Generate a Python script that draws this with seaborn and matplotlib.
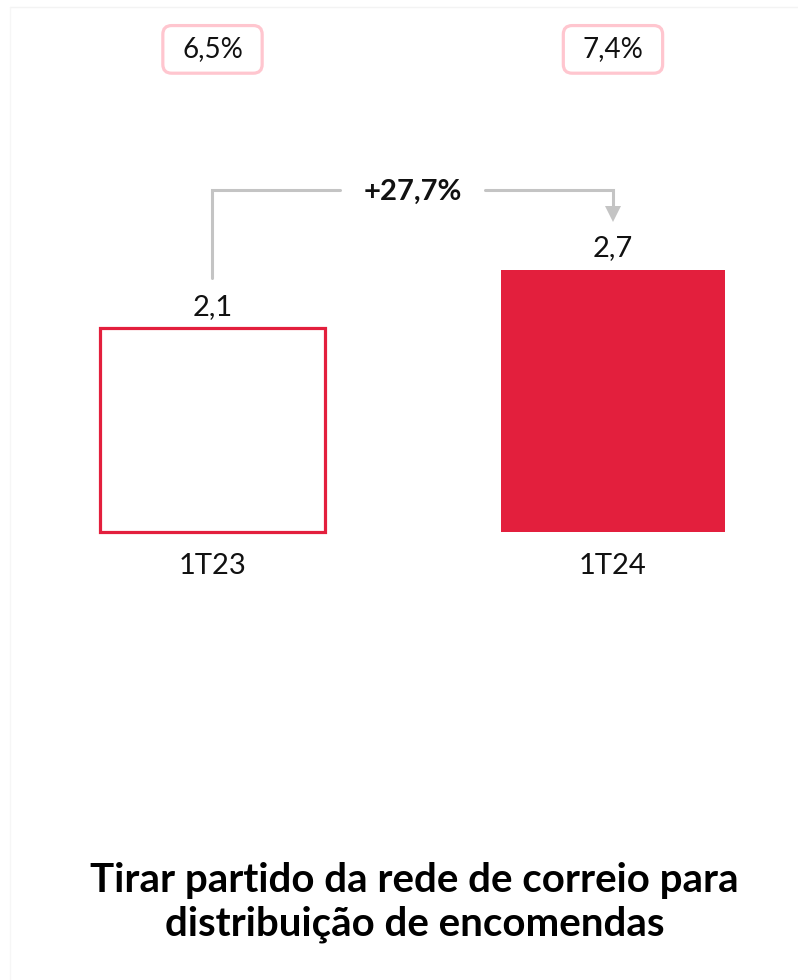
import matplotlib
matplotlib.use("Agg")
import matplotlib.pyplot as plt
from matplotlib.patches import FancyBboxPatch
from matplotlib.lines import Line2D
import seaborn as sns
import pandas as pd

# data
periodos = ["1T23", "1T24"]
valores = [2.1, 2.7]
valores_txt = ["2,1", "2,7"]
quotas_txt = ["6,5%", "7,4%"]
variacao_txt = "+27,7%"
titulo = "Tirar partido da rede de correio para\ndistribuição de encomendas"

vermelho = "#E31F3D"
rosa = "#FFC6CF"
cinza = "#C4C4C4"

sns.set_theme(style="white")
plt.rcParams["font.family"] = ["Lato", "DejaVu Sans"]

df = pd.DataFrame({"periodo": periodos, "valor": valores})

fig = plt.figure(figsize=(7.98, 9.8), dpi=100)
ax = fig.add_axes([0, 0, 1, 1])

sns.barplot(data=df, x="periodo", y="valor", hue="periodo",
            palette=["white", vermelho], width=0.56, saturation=1,
            legend=False, ax=ax)
ax.patches[0].set_edgecolor(vermelho)
ax.patches[0].set_linewidth(2.3)
ax.patches[1].set_edgecolor(vermelho)
ax.patches[1].set_linewidth(0)

# pixel-ish scale: bars centred at 212 / 613 px, baseline at 532 px
ax.set_xlim(-0.5306, 1.462)
ax.set_ylim(-4.609, 5.473)
ax.axis("off")

for i, (v, t) in enumerate(zip(valores, valores_txt)):
    ax.annotate(t, xy=(i, v), xytext=(0, 9.5), textcoords="offset points",
                ha="center", va="baseline", fontsize=21, color="#111111")
    ax.annotate(periodos[i], xy=(i, 0), xytext=(0, -30), textcoords="offset points",
                ha="center", va="baseline", fontsize=21, color="#111111")

# share boxes
for i, t in enumerate(quotas_txt):
    box = FancyBboxPatch((i - 0.124, 4.72), 0.248, 0.49,
                         boxstyle="round,pad=0,rounding_size=0.022",
                         mutation_aspect=4.1, fc="white", ec=rosa, lw=2.3)
    ax.add_patch(box)
    ax.text(i, 4.965, t, ha="center", va="center", fontsize=20, color="#111111")

# growth connector
y_top = 3.52
ax.plot([0, 0, 0.318], [2.613, y_top, y_top], color=cinza, lw=2.2,
        solid_joinstyle="miter")
ax.plot([0.68, 1, 1], [y_top, y_top, 3.30], color=cinza, lw=2.2,
        solid_joinstyle="miter")
ax.plot([1], [3.27], marker="v", color=cinza, markersize=11, markeredgewidth=0)
ax.text(0.5, 3.50, variacao_txt, ha="center", va="center", fontsize=21,
        fontweight="bold", color="#111111")

ax.text(0.505, -3.81, titulo, ha="center", va="center", fontsize=29,
        fontweight="bold", color="black", linespacing=1.22)

# faint frame
fig.add_artist(Line2D([10 / 798, 1], [1 - 7 / 980, 1 - 7 / 980],
                      transform=fig.transFigure, color="#F3F3F3", lw=1))
fig.add_artist(Line2D([10 / 798, 10 / 798], [0, 1 - 7 / 980],
                      transform=fig.transFigure, color="#F6F6F6", lw=1))

fig.savefig("out.png", dpi=100, facecolor="white")
